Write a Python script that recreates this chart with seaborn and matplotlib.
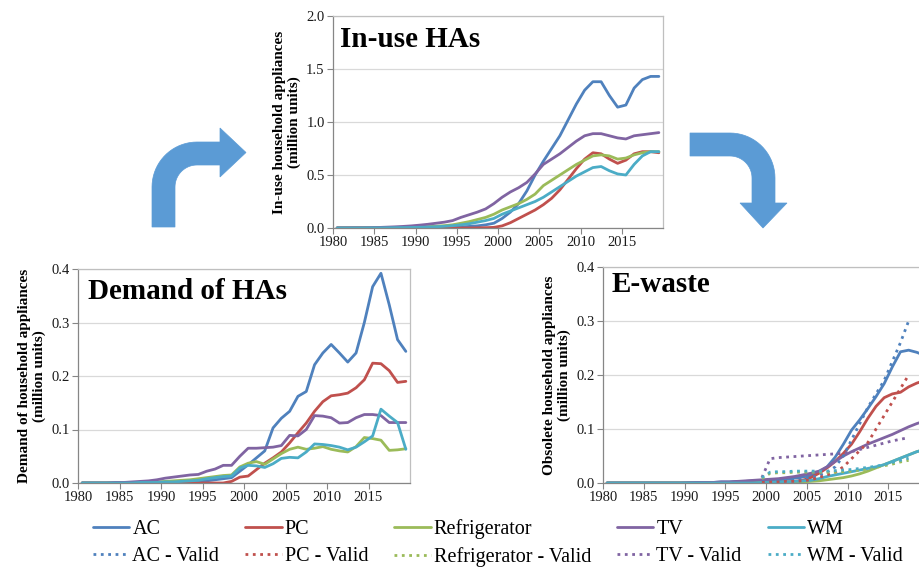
import numpy as np
import pandas as pd
import matplotlib
matplotlib.use("Agg")
import matplotlib.pyplot as plt
from matplotlib.lines import Line2D
from matplotlib.path import Path
from matplotlib.patches import PathPatch
import seaborn as sns

# ---- data (million units), one value per year 1980..2019 ----
years = list(range(1980, 2020))
appliances = ["AC", "PC", "Refrigerator", "TV", "WM"]
colors = ["#4F81BD", "#C0504D", "#9BBB59", "#8064A2", "#4BACC6"]

inuse_ac = [0, 0, 0, 0, 0, 0, 0, 0.001, 0.001, 0.002,
            0.002, 0.003, 0.004, 0.005, 0.007, 0.01, 0.015, 0.02, 0.03, 0.045,
            0.09, 0.15, 0.23, 0.35, 0.50, 0.63, 0.75, 0.87, 1.02, 1.17,
            1.30, 1.38, 1.38, 1.25, 1.14, 1.16, 1.32, 1.40, 1.43, 1.43]
inuse_pc = [0, 0, 0, 0, 0, 0, 0, 0, 0, 0,
            0, 0, 0, 0, 0, 0, 0, 0.001, 0.003, 0.006,
            0.02, 0.05, 0.09, 0.13, 0.17, 0.22, 0.28, 0.36, 0.46, 0.56,
            0.65, 0.71, 0.70, 0.65, 0.61, 0.64, 0.70, 0.72, 0.72, 0.71]
inuse_ref = [0, 0, 0, 0.001, 0.001, 0.002, 0.003, 0.004, 0.006, 0.008,
             0.01, 0.013, 0.017, 0.022, 0.03, 0.045, 0.06, 0.08, 0.10, 0.13,
             0.17, 0.20, 0.23, 0.27, 0.32, 0.40, 0.45, 0.50, 0.55, 0.60,
             0.64, 0.68, 0.69, 0.68, 0.65, 0.66, 0.69, 0.71, 0.72, 0.72]
inuse_tv = [0.001, 0.001, 0.002, 0.002, 0.003, 0.005, 0.008, 0.011, 0.015, 0.02,
            0.027, 0.035, 0.045, 0.055, 0.07, 0.10, 0.125, 0.15, 0.18, 0.23,
            0.29, 0.34, 0.38, 0.43, 0.51, 0.60, 0.65, 0.70, 0.76, 0.82,
            0.87, 0.89, 0.89, 0.87, 0.85, 0.84, 0.87, 0.88, 0.89, 0.90]
inuse_wm = [0, 0, 0, 0, 0.001, 0.001, 0.002, 0.003, 0.004, 0.005,
            0.007, 0.009, 0.012, 0.016, 0.022, 0.03, 0.04, 0.055, 0.07, 0.09,
            0.13, 0.16, 0.19, 0.22, 0.25, 0.29, 0.34, 0.39, 0.44, 0.49,
            0.53, 0.57, 0.58, 0.54, 0.51, 0.50, 0.60, 0.68, 0.72, 0.72]

demand_ac = [0, 0, 0, 0, 0, 0, 0, 0, 0, 0.001,
             0.001, 0.001, 0.001, 0.002, 0.002, 0.004, 0.006, 0.008, 0.010, 0.022,
             0.034, 0.047, 0.060, 0.103, 0.121, 0.134, 0.162, 0.171, 0.221, 0.243,
             0.259, 0.243, 0.226, 0.243, 0.300, 0.367, 0.392, 0.333, 0.268, 0.246]
demand_pc = [0, 0, 0, 0, 0, 0, 0, 0, 0, 0,
             0, 0, 0, 0, 0, 0, 0, 0, 0.003, 0.011,
             0.013, 0.025, 0.037, 0.047, 0.058, 0.075, 0.094, 0.112, 0.134, 0.152,
             0.163, 0.165, 0.168, 0.178, 0.193, 0.224, 0.223, 0.210, 0.188, 0.190]
demand_ref = [0, 0, 0, 0, 0, 0, 0.001, 0.001, 0.001, 0.002,
              0.003, 0.004, 0.005, 0.006, 0.008, 0.010, 0.012, 0.014, 0.015, 0.030,
              0.037, 0.040, 0.035, 0.045, 0.055, 0.063, 0.067, 0.063, 0.065, 0.068,
              0.063, 0.060, 0.058, 0.068, 0.085, 0.083, 0.080, 0.061, 0.062, 0.064]
demand_tv = [0, 0, 0, 0, 0.001, 0.001, 0.002, 0.003, 0.004, 0.006,
             0.009, 0.011, 0.013, 0.015, 0.016, 0.022, 0.026, 0.033, 0.033, 0.050,
             0.065, 0.065, 0.066, 0.067, 0.070, 0.089, 0.088, 0.100, 0.126, 0.125,
             0.122, 0.112, 0.113, 0.122, 0.128, 0.128, 0.126, 0.113, 0.113, 0.113]
demand_wm = [0, 0, 0, 0, 0, 0, 0, 0.001, 0.001, 0.001,
             0.002, 0.002, 0.003, 0.004, 0.005, 0.008, 0.010, 0.012, 0.013, 0.028,
             0.033, 0.032, 0.029, 0.036, 0.046, 0.048, 0.047, 0.058, 0.073, 0.072,
             0.070, 0.067, 0.062, 0.067, 0.077, 0.088, 0.138, 0.125, 0.113, 0.063]

ewaste_ac = [0, 0, 0, 0, 0, 0, 0, 0, 0, 0,
             0.0005, 0.001, 0.001, 0.001, 0.002, 0.002, 0.003, 0.003, 0.004, 0.004,
             0.005, 0.006, 0.007, 0.009, 0.011, 0.014, 0.020, 0.030, 0.048, 0.072,
             0.098, 0.117, 0.138, 0.160, 0.184, 0.215, 0.243, 0.246, 0.242, 0.236]
ewaste_pc = [0, 0, 0, 0, 0, 0, 0, 0, 0, 0,
             0, 0, 0, 0, 0, 0, 0, 0, 0, 0,
             0.001, 0.001, 0.002, 0.003, 0.005, 0.010, 0.018, 0.028, 0.040, 0.055,
             0.072, 0.095, 0.120, 0.142, 0.158, 0.165, 0.168, 0.178, 0.185, 0.190]
ewaste_ref = [0, 0, 0, 0, 0, 0, 0, 0, 0, 0,
              0, 0, 0, 0, 0, 0, 0, 0, 0, 0.001,
              0.001, 0.001, 0.001, 0.002, 0.002, 0.003, 0.004, 0.006, 0.008, 0.010,
              0.013, 0.017, 0.022, 0.028, 0.034, 0.040, 0.046, 0.052, 0.058, 0.062]
ewaste_tv = [0, 0, 0, 0, 0, 0, 0, 0, 0, 0,
             0.0005, 0.001, 0.001, 0.001, 0.002, 0.002, 0.003, 0.004, 0.005, 0.006,
             0.007, 0.008, 0.010, 0.012, 0.015, 0.018, 0.022, 0.030, 0.040, 0.050,
             0.058, 0.065, 0.072, 0.078, 0.084, 0.090, 0.097, 0.104, 0.110, 0.115]
ewaste_wm = [0, 0, 0, 0, 0, 0, 0, 0, 0, 0,
             0, 0, 0, 0, 0, 0, 0, 0, 0, 0.001,
             0.001, 0.002, 0.002, 0.003, 0.004, 0.005, 0.008, 0.012, 0.015, 0.018,
             0.021, 0.024, 0.027, 0.030, 0.034, 0.040, 0.046, 0.052, 0.058, 0.062]

# validation series, 1999..2017
valid_years = list(range(1999, 2018))
valid_ac = [0.002, 0.003, 0.004, 0.005, 0.006, 0.008, 0.010, 0.014, 0.020, 0.030,
            0.050, 0.080, 0.110, 0.140, 0.165, 0.190, 0.225, 0.260, 0.300]
valid_pc = [0.001, 0.002, 0.002, 0.003, 0.003, 0.004, 0.006, 0.010, 0.015, 0.020,
            0.030, 0.045, 0.060, 0.075, 0.100, 0.125, 0.150, 0.175, 0.200]
valid_ref = [0.008, 0.018, 0.019, 0.019, 0.020, 0.020, 0.020, 0.020, 0.020, 0.020,
             0.021, 0.022, 0.024, 0.026, 0.029, 0.032, 0.035, 0.039, 0.042]
valid_tv = [0.010, 0.045, 0.047, 0.048, 0.049, 0.050, 0.051, 0.052, 0.053, 0.054,
            0.055, 0.058, 0.062, 0.066, 0.070, 0.074, 0.078, 0.081, 0.084]
valid_wm = [0.010, 0.020, 0.021, 0.021, 0.022, 0.022, 0.022, 0.022, 0.022, 0.023,
            0.024, 0.025, 0.027, 0.029, 0.031, 0.034, 0.038, 0.042, 0.046]


def long_table(yrs, series):
    rows = []
    for name, vals in zip(appliances, series):
        for y, v in zip(yrs, vals):
            # Excel category axis: each year sits in the middle of its slot
            rows.append({"year": y + 0.5, "units": v, "appliance": name})
    return pd.DataFrame(rows)


inuse = long_table(years, [inuse_ac, inuse_pc, inuse_ref, inuse_tv, inuse_wm])
demand = long_table(years, [demand_ac, demand_pc, demand_ref, demand_tv, demand_wm])
ewaste = long_table(years, [ewaste_ac, ewaste_pc, ewaste_ref, ewaste_tv, ewaste_wm])
valid = long_table(valid_years, [valid_ac, valid_pc, valid_ref, valid_tv, valid_wm])

sns.set_theme(style="white")
plt.rcParams["font.family"] = ["Liberation Serif", "DejaVu Serif"]
plt.rcParams["text.color"] = "black"
plt.rcParams["axes.labelcolor"] = "black"

W, H = 919, 569
fig = plt.figure(figsize=(W / 100, H / 100), dpi=100)
palette = dict(zip(appliances, colors))


def px_axes(left, top, right, bottom):
    return fig.add_axes([left / W, 1 - bottom / H, (right - left) / W, (bottom - top) / H])


def style_panel(ax, ymax, ystep, ylabel, title, tx, ty):
    ax.set_xlim(1980, 2020)
    ax.set_ylim(0, ymax)
    ax.set_xticks(range(1980, 2020, 5))
    ax.set_yticks(np.round(np.arange(0, ymax + 1e-9, ystep), 2))
    ax.yaxis.set_major_formatter(matplotlib.ticker.FormatStrFormatter("%.1f"))
    ax.grid(axis="y", color="#D9D9D9", lw=0.9)
    ax.set_axisbelow(True)
    for s in ["top", "right"]:
        ax.spines[s].set_color("#BFBFBF")
        ax.spines[s].set_linewidth(0.9)
    for s in ["left", "bottom"]:
        ax.spines[s].set_color("#868686")
        ax.spines[s].set_linewidth(0.9)
    ax.tick_params(axis="both", labelsize=10.5, length=4, width=0.8, color="#868686",
                   direction="out", pad=2, labelcolor="#1a1a1a")
    ax.tick_params(axis="x", bottom=True)
    ax.tick_params(axis="y", left=True)
    ax.set_xlabel("")
    ax.set_ylabel(ylabel, fontsize=11, fontweight="bold", labelpad=4, linespacing=1.1)
    ax.text(tx, ty, title, transform=ax.transAxes, fontsize=21, fontweight="bold",
            va="center", ha="left", color="black")


def draw(ax, table, ls="-"):
    sns.lineplot(data=table, x="year", y="units", hue="appliance", hue_order=appliances,
                 palette=palette, errorbar=None, legend=False, lw=2, linestyle=ls, ax=ax)


ax_use = px_axes(333, 16, 663, 228)
draw(ax_use, inuse)
style_panel(ax_use, 2.0, 0.5, "In-use household appliances\n(million units)",
            "In-use HAs", 0.02, 0.89)

ax_dem = px_axes(78, 269, 410, 483)
draw(ax_dem, demand)
style_panel(ax_dem, 0.4, 0.1, "Demand of household appliances\n(million units)",
            "Demand of HAs", 0.03, 0.895)

ax_ew = px_axes(603, 267, 929, 483)
draw(ax_ew, ewaste)
draw(ax_ew, valid, ls=":")
style_panel(ax_ew, 0.4, 0.1, "Obsolete household appliances\n(million units)",
            "E-waste", 0.027, 0.92)


# ---- bent arrows between the panels ----
def arc(cx, cy, r, a0, a1, n=20):
    t = np.radians(np.linspace(a0, a1, n))
    return [(cx + r * np.cos(t_), cy - r * np.sin(t_)) for t_ in t]


def arrow_patch(points):
    verts = [(x / W, 1 - y / H) for x, y in points]
    verts.append(verts[0])
    codes = [Path.MOVETO] + [Path.LINETO] * (len(verts) - 2) + [Path.CLOSEPOLY]
    fig.patches.append(PathPatch(Path(verts, codes), transform=fig.transFigure,
                                 facecolor="#5B9BD5", edgecolor="#5B9BD5", lw=0.5))


left_arrow = ([(152, 227), (152, 187)] + arc(197, 187, 45, 180, 90) +
              [(220, 142), (220, 128), (246, 152.5), (220, 177), (220, 165)] +
              arc(197, 187, 22, 90, 180) + [(175, 227)])
arrow_patch(left_arrow)

right_arrow = ([(690, 133)] + arc(730, 178, 45, 90, 0) +
               [(775, 203), (787, 203), (763, 228), (740, 203), (752, 203)] +
               arc(730, 178, 22, 0, 90) + [(690, 156)])
arrow_patch(right_arrow)

# ---- legend ----
handles, labels = [], []
for name, c in zip(appliances, colors):
    handles.append(Line2D([], [], color=c, lw=2))
    labels.append(name)
    handles.append(Line2D([], [], color=c, lw=2, linestyle=":"))
    labels.append(f"{name} - Valid")
fig.legend(handles, labels, ncol=5, loc="center", bbox_to_anchor=(498 / W, 1 - 543 / H),
           frameon=False, fontsize=14.5, handlelength=1.8, handletextpad=0.15,
           columnspacing=1.3, labelspacing=0.4, borderaxespad=0, borderpad=0)

fig.savefig("out.png", dpi=100)
